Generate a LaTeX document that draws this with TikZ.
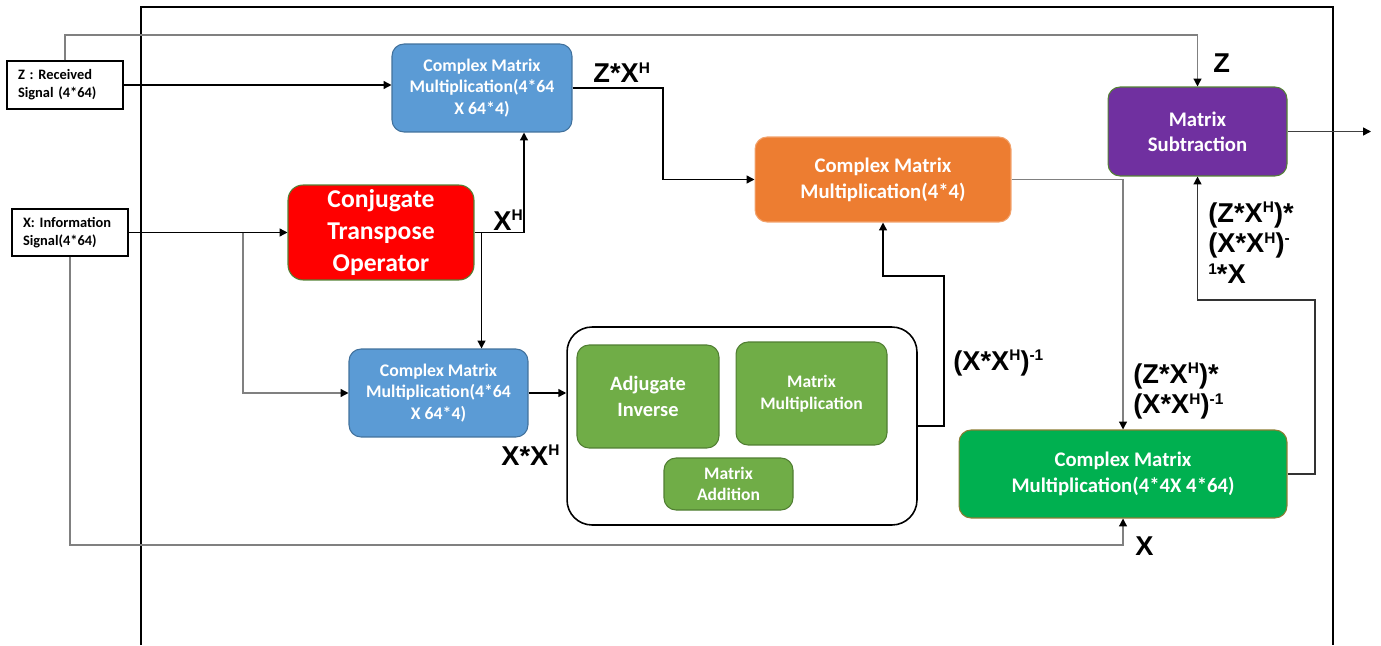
\documentclass[tikz,border=0pt]{standalone}
\usepackage{fontspec}
\setmainfont{Carlito}
\newfontfamily\lblfont{Liberation Sans}
\usetikzlibrary{arrows.meta,calc}
\definecolor{bluef}{HTML}{5B9BD5}
\definecolor{blued}{HTML}{41719C}
\definecolor{redf}{HTML}{FF0000}
\definecolor{greenb}{HTML}{548235}
\definecolor{orangef}{HTML}{ED7D31}
\definecolor{orangeb}{HTML}{F2A36D}
\definecolor{purplef}{HTML}{7030A0}
\definecolor{dgreenf}{HTML}{00B050}
\definecolor{dgreenb}{HTML}{8C7D33}
\definecolor{lgreenf}{HTML}{70AD47}
\definecolor{lgreenb}{HTML}{507E32}
\definecolor{lineg}{HTML}{808080}
\newcommand\sps[1]{\raisebox{0.34em}{\fontsize{8.8pt}{9pt}\selectfont #1}}
\begin{document}
\begin{tikzpicture}[x=0.02cm,y=-0.02cm,
  proc/.style={rectangle, rounded corners=0.24cm, align=center, text=white, inner sep=0pt, line width=0.6pt},
  sig/.style={rectangle, draw=black, fill=white, line width=0.8pt, align=left,
    font=\fontsize{8.2pt}{10.2pt}\selectfont\bfseries, inner xsep=0.22cm, inner ysep=0pt, text width=1.88cm},
  tip/.style={-{Triangle[length=4.5pt,width=4.5pt,color=black]}},
  blk/.style={draw=black, line width=0.8pt},
  gry/.style={draw=lineg, line width=0.8pt},
  lbl/.style={font=\lblfont\fontsize{15.5pt}{17.5pt}\selectfont\bfseries, inner sep=0pt, align=left}
]
\useasboundingbox (0,0) rectangle (1381,645);
% outer frame
\draw[black, line width=0.9pt] (141,645) -- (141,7) -- (1333,7) -- (1333,645);

% signal boxes
\node[sig, minimum height=0.96cm] (zsig) at (65,85) {Z : Received\\Signal (4*64)};
\node[sig, minimum height=0.94cm] (xsig) at (70,232.5) {X: Information\\Signal(4*64)};

% processing blocks
\node[proc, fill=bluef, draw=blued, minimum width=3.6cm, minimum height=1.76cm,
  font=\fontsize{10.1pt}{12.3pt}\selectfont\bfseries] (blue1) at (482,88)
  {Complex Matrix\\Multiplication(4*64\\X 64*4)};
\node[proc, fill=bluef, draw=blued, minimum width=3.58cm, minimum height=1.76cm,
  font=\fontsize{10.1pt}{12.3pt}\selectfont\bfseries] (blue2) at (438.5,393)
  {Complex Matrix\\Multiplication(4*64\\X 64*4)};
\node[proc, fill=redf, draw=greenb, rounded corners=0.3cm, minimum width=3.72cm, minimum height=1.9cm,
  font=\fontsize{14.6pt}{18.1pt}\selectfont\bfseries] (red) at (381,232.5)
  {Conjugate\\Transpose\\Operator};
\node[proc, fill=orangef, draw=orangeb, minimum width=5.12cm, minimum height=1.7cm,
  font=\fontsize{11.8pt}{14.7pt}\selectfont\bfseries] (orange) at (883,179.5)
  {Complex Matrix\\Multiplication(4*4)};
\node[proc, fill=purplef, draw=greenb, minimum width=3.58cm, minimum height=1.78cm,
  font=\fontsize{11.8pt}{14.4pt}\selectfont\bfseries] (purple) at (1197.5,131.5)
  {Matrix\\Subtraction};
\node[proc, fill=dgreenf, draw=dgreenb, minimum width=6.56cm, minimum height=1.76cm,
  font=\fontsize{11.8pt}{14.6pt}\selectfont\bfseries] (dgreen) at (1123,474)
  {Complex Matrix\\Multiplication(4*4X 4*64)};

% inverse block
\node[rectangle, rounded corners=0.5cm, draw=black, line width=0.9pt, fill=white,
  minimum width=7cm, minimum height=3.96cm] (bigbox) at (742,426) {};
\node[proc, fill=lgreenf, draw=lgreenb, minimum width=2.84cm, minimum height=2.06cm,
  font=\fontsize{11.6pt}{14.7pt}\selectfont\bfseries] (adj) at (648,396.5) {Adjugate\\Inverse};
\node[proc, fill=lgreenf, draw=lgreenb, minimum width=3.02cm, minimum height=2.06cm,
  font=\fontsize{10pt}{12.3pt}\selectfont\bfseries] (mmul) at (811.5,393.5) {Matrix\\Multiplication};
\node[proc, fill=lgreenf, draw=lgreenb, minimum width=2.58cm, minimum height=1.04cm,
  font=\fontsize{10pt}{12.3pt}\selectfont\bfseries] (madd) at (728.5,484) {Matrix\\Addition};

% helper coordinates
\coordinate (ztop) at (0,35);
\coordinate (c663) at (663,0);
\coordinate (c243) at (243,0);
\coordinate (c944) at (944,0);
\coordinate (c276) at (0,276);
\coordinate (c1315) at (1315,0);
\coordinate (c300) at (0,300);
\coordinate (c545) at (0,545);
\coordinate (xh) at ($(red.east)+(7,0)$);
\coordinate (out) at (1371,131.5);

% connectors
\draw[gry, tip] (zsig.north) |- (purple.north |- ztop) -- (purple.north);
\draw[blk, tip] (zsig.east) -- (zsig.east -| blue1.west);
\draw[blk, tip] (blue1.east) -- (c663 |- blue1.east) -- (c663 |- orange.west) -- (orange.west);
\draw[blk, tip] (xsig.east) -- (red.west);
\draw[gry, tip] (c243 |- xsig.east) |- (blue2.west);
\draw[blk, tip] (red.east) -| ($(blue1.south)+(42,0)$);
\draw[blk, tip] (xh) -- (xh |- blue2.north);
\draw[blk, tip] (blue2.east) -- (blue2.east -| bigbox.west);
\draw[blk, tip] (bigbox.east) -- (c944 |- bigbox.east) -- (c944 |- c276) -| (orange.south);
\draw[gry, tip] (orange.east) -| (dgreen.north);
\draw[gry, tip] (xsig.south) |- (dgreen.south |- c545) -- (dgreen.south);
\draw[blk, draw=black!80, tip] (dgreen.east) -- (c1315 |- dgreen.east) -- (c1315 |- c300) -| (purple.south);
\draw[blk, draw=black!75, tip] (purple.east) -- (out);

% labels
\node[lbl, anchor=base west] (lzxh) at (593,83) {Z*X\sps{H}};
\node[lbl, anchor=base west] (lxh) at (493,230) {X\sps{H}};
\node[lbl, anchor=base west] (lxxh) at (501,465) {X*X\sps{H}};
\node[lbl, anchor=base west] (linv) at (953,370) {(X*X\sps{H})\sps{-1}};
\node[lbl, anchor=north west] (lprod) at (1133,363) {(Z*X\sps{H})*\\(X*X\sps{H})\sps{-1}};
\node[lbl, anchor=north west] (lres) at (1208,202) {(Z*X\sps{H})*\\(X*X\sps{H})\sps{-}\\\sps{1}*X};
\node[lbl, anchor=base west] (lz) at (1213,73) {Z};
\node[lbl, anchor=base west] (lx) at (1135,555) {X};
\end{tikzpicture}
\end{document}
